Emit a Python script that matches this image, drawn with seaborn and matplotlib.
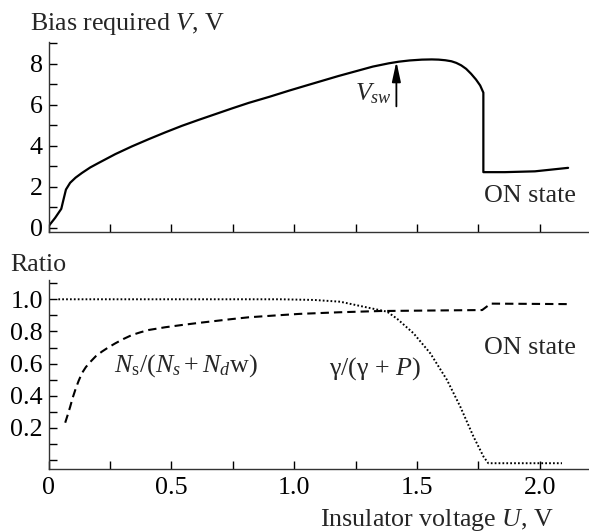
import numpy as np
import pandas as pd
import seaborn as sns
import matplotlib
matplotlib.use("Agg")
import matplotlib.pyplot as plt

# Bias required V versus insulator voltage U
bias_u = [0.0, 0.027, 0.052, 0.061, 0.071, 0.088, 0.11, 0.136, 0.17, 0.204,
          0.272, 0.34, 0.408, 0.475, 0.543, 0.611, 0.679, 0.747, 0.815, 0.9,
          0.98, 1.05, 1.115, 1.18, 1.25, 1.32, 1.385, 1.426, 1.47, 1.52,
          1.56, 1.588, 1.615, 1.64, 1.66, 1.68, 1.70, 1.72, 1.74, 1.757,
          1.77, 1.77, 1.858, 1.98, 2.115]
bias_v = [0.08, 0.49, 0.93, 1.38, 1.87, 2.2, 2.45, 2.68, 2.95, 3.17,
          3.6, 3.98, 4.33, 4.66, 4.98, 5.27, 5.55, 5.83, 6.1, 6.4,
          6.7, 6.95, 7.18, 7.41, 7.64, 7.87, 8.03, 8.11, 8.17, 8.21,
          8.22, 8.21, 8.18, 8.13, 8.05, 7.93, 7.76, 7.52, 7.24, 6.95,
          6.6, 2.72, 2.72, 2.76, 2.93]

# Ratio Ns/(Ns + Nd w)
ns_u = [0.068, 0.078, 0.088, 0.098, 0.109, 0.122, 0.136, 0.152, 0.17, 0.192,
        0.217, 0.245, 0.272, 0.305, 0.34, 0.375, 0.408, 0.475, 0.543, 0.611,
        0.679, 0.747, 0.815, 0.92, 1.02, 1.18, 1.35, 1.55, 1.765, 1.8, 2.117]
ns_r = [0.232, 0.28, 0.33, 0.385, 0.436, 0.49, 0.54, 0.578, 0.61, 0.645,
        0.674, 0.702, 0.726, 0.753, 0.778, 0.795, 0.809, 0.826, 0.84, 0.853,
        0.865, 0.877, 0.888, 0.899, 0.909, 0.919, 0.927, 0.93, 0.933, 0.973, 0.97]

# Ratio gamma/(gamma + P)
gp_u = [0.04, 0.5, 0.943, 1.079, 1.187, 1.282, 1.378, 1.418, 1.486, 1.554,
        1.622, 1.676, 1.73, 1.771, 1.79, 2.09]
gp_r = [1.0, 1.0, 1.0, 0.996, 0.985, 0.954, 0.923, 0.88, 0.788, 0.664,
        0.498, 0.332, 0.145, 0.02, -0.02, -0.02]

bias_ticks = [0, 1, 2, 3, 4, 5, 6, 7, 8, 9]
bias_ticklabels = ["0", "", "2", "", "4", "", "6", "", "8", ""]
ratio_ticks = [0.0, 0.1, 0.2, 0.3, 0.4, 0.5, 0.6, 0.7, 0.8, 0.9, 1.0, 1.1]
ratio_ticklabels = ["", "", "0.2", "", "0.4", "", "0.6", "", "0.8", "", "1.0", ""]
u_ticks = [0, 0.25, 0.5, 0.75, 1.0, 1.25, 1.5, 1.75, 2.0]
u_ticklabels = ["0", "", "0.5", "", "1.0", "", "1.5", "", "2.0"]

sns.set_style("ticks")
plt.rcParams["font.family"] = ["Liberation Serif", "DejaVu Serif"]
plt.rcParams["mathtext.fontset"] = "custom"
plt.rcParams["mathtext.rm"] = "Liberation Serif"
plt.rcParams["mathtext.it"] = "Liberation Serif:italic"
plt.rcParams["mathtext.bf"] = "Liberation Serif:bold"

FS = 18.7
W, H = 589, 532
fig = plt.figure(figsize=(W / 100, H / 100), dpi=100)

x0 = 48.5 / W
ax1 = fig.add_axes([x0, 1 - 232 / H, 1 - x0, (232 - 42) / H])
ax2 = fig.add_axes([x0, 1 - 469 / H, 1 - x0, (469 - 280) / H])

bias_df = pd.DataFrame({"U": bias_u, "V": bias_v})
ns_df = pd.DataFrame({"U": ns_u, "R": ns_r})
gp_df = pd.DataFrame({"U": gp_u, "R": gp_r})

sns.lineplot(data=bias_df, x="U", y="V", ax=ax1, estimator=None, sort=False,
             color="black", lw=1.6)
sns.lineplot(data=ns_df, x="U", y="R", ax=ax2, estimator=None, sort=False,
             color="black", lw=1.5)
ax2.lines[-1].set_linestyle((0, (4.0, 2.4)))
sns.lineplot(data=gp_df, x="U", y="R", ax=ax2, estimator=None, sort=False,
             color="black", lw=1.4)
ax2.lines[-1].set_linestyle((0, (0.9, 1.1)))

for ax in (ax1, ax2):
    ax.set_xlim(0, 2.2)
    ax.set_xticks(u_ticks)
    ax.set_xlabel("")
    ax.set_ylabel("")
    ax.tick_params(direction="in", length=6, width=1.0, labelsize=FS,
                   colors="black", pad=4)
    for side in ("top", "right"):
        ax.spines[side].set_visible(False)
    for side in ("left", "bottom"):
        ax.spines[side].set_linewidth(1.0)
        ax.spines[side].set_color("#333333")
    ax.patch.set_alpha(0)

ax1.set_ylim(-0.2, 9.07)
ax1.set_yticks(bias_ticks)
ax1.set_yticklabels(bias_ticklabels)
ax1.set_xticklabels([""] * len(u_ticks))

ax2.set_ylim(-0.056, 1.12)
ax2.set_yticks(ratio_ticks)
ax2.set_yticklabels(ratio_ticklabels)
ax2.set_xticklabels(u_ticklabels)
ax2.tick_params(axis="x", pad=6)

# Switching voltage marker
ax1.annotate("", xy=(1.416, 8.12), xytext=(1.416, 5.93),
             arrowprops=dict(arrowstyle="-|>,head_length=0.6,head_width=0.13",
                             lw=1.3, color="black", mutation_scale=20,
                             shrinkA=0, shrinkB=0))
ax1.text(1.249, 6.24, r"$V_{sw}$", fontsize=FS, ha="left", va="baseline")
ax1.text(1.771, 1.28, "ON state", fontsize=FS, ha="left", va="baseline")

ax2.text(0.267, 0.55, r"$N_{\mathrm{s}}/(N_s + N_d\mathrm{w})$", fontsize=FS,
         ha="left", va="baseline")
ax2.text(1.14, 0.53, "γ/(γ + $P$)", fontsize=FS, ha="left", va="baseline")
ax2.text(1.771, 0.66, "ON state", fontsize=FS, ha="left", va="baseline")

fig.text(30 / W, 1 - 30 / H, "Bias required $V$, V", fontsize=FS,
         ha="left", va="baseline")
fig.text(10 / W, 1 - 270.7 / H, "Ratio", fontsize=FS, ha="left", va="baseline")
fig.text(320 / W, 1 - 526 / H, "Insulator voltage $U$, V", fontsize=FS,
         ha="left", va="baseline")

fig.savefig("out.png", dpi=100)
